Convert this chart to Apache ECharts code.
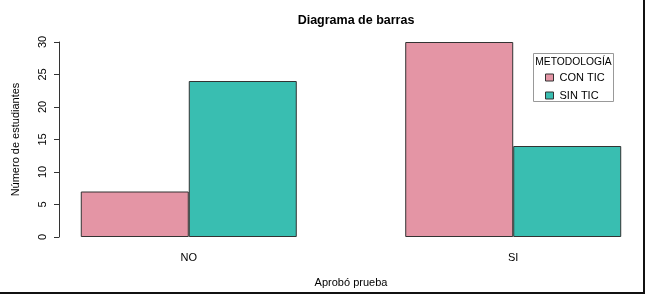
<!DOCTYPE html>
<html>
<head>
<meta charset="utf-8">
<script src="https://cdn.jsdelivr.net/npm/echarts@6/dist/echarts.min.js"></script>
<style>html,body{margin:0;padding:0;background:#fff;}#c{width:646px;height:295px;}</style>
</head>
<body>
<div id="c"></div>
<script>
var categories = ['NO', 'SI'];
var seriesNames = ['CON TIC', 'SIN TIC'];
var conTic = [7, 30];
var sinTic = [24, 14];
var yTicks = [0, 5, 10, 15, 20, 25, 30];

// R barplot(beside=TRUE) group centres: 2, 5 (units of bar width)
var groupPos = categories.map(function (c, i) { return 2 + 3 * i; });
function pairs(vals) { return vals.map(function (v, i) { return [groupPos[i], v]; }); }

var FONT = 'Liberation Sans, Arial, sans-serif';
var chart = echarts.init(document.getElementById('c'), null, {renderer: 'canvas'});
chart.setOption({
  animation: false,
  backgroundColor: '#ffffff',
  textStyle: {fontFamily: FONT},
  title: {
    text: 'Diagrama de barras',
    left: 351, top: 9, textAlign: 'center',
    textStyle: {fontFamily: FONT, fontSize: 12.5, fontWeight: 'bold', color: '#000'}
  },
  legend: {
    data: seriesNames,
    orient: 'vertical',
    left: 545, top: 72, padding: 0,
    itemWidth: 8, itemHeight: 7, itemGap: 7,
    icon: 'rect',
    textStyle: {fontFamily: FONT, fontSize: 11, color: '#000', padding: [0, 0, 0, 1]},
    itemStyle: {borderColor: '#333', borderWidth: 1}
  },
  grid: {left: 59, top: 42, right: 3, bottom: 58, containLabel: false},
  xAxis: {
    type: 'value',
    min: 0.8, max: 6.2,
    splitLine: {show: false},
    axisLine: {show: false},
    axisTick: {show: false},
    axisLabel: {
      fontFamily: FONT, fontSize: 11, color: '#000', margin: 15,
      customValues: groupPos,
      formatter: function (v) { var i = groupPos.indexOf(v); return i >= 0 ? categories[i] : ''; }
    }
  },
  yAxis: {
    type: 'value',
    min: yTicks[0], max: yTicks[yTicks.length - 1], interval: 5,
    splitLine: {show: false},
    axisLine: {show: true, lineStyle: {color: '#333', width: 1}},
    axisTick: {show: true, length: 5, lineStyle: {color: '#333'}},
    axisLabel: {fontFamily: FONT, fontSize: 11, color: '#000', rotate: 90, margin: 11},
    name: 'Número de estudiantes',
    nameLocation: 'middle',
    nameRotate: 90,
    nameGap: 38,
    nameTextStyle: {fontFamily: FONT, fontSize: 11, color: '#000'}
  },
  series: [
    {name: seriesNames[0], type: 'bar', data: pairs(conTic), barWidth: 108, barGap: '0%',
     itemStyle: {color: '#E495A5', borderColor: '#333', borderWidth: 1}},
    {name: seriesNames[1], type: 'bar', data: pairs(sinTic), barWidth: 108, barGap: '0%',
     itemStyle: {color: '#39BEB1', borderColor: '#333', borderWidth: 1}}
  ],
  graphic: [
    {type: 'rect', shape: {x: 533.5, y: 53.5, width: 80, height: 48},
     style: {fill: 'none', stroke: '#999', lineWidth: 1}, z: 0},
    {type: 'text', x: 573.5, y: 57, style: {text: 'METODOLOGÍA', fontFamily: FONT, fontSize: 10.3, fill: '#000', textAlign: 'center'}},
    {type: 'text', x: 351, y: 277, style: {text: 'Aprobó prueba', fontFamily: FONT, fontSize: 11, fill: '#000', textAlign: 'center'}},
    {type: 'line', shape: {x1: 644, y1: 0, x2: 644, y2: 294}, style: {stroke: '#111', lineWidth: 2}},
    {type: 'line', shape: {x1: 0, y1: 293, x2: 645, y2: 293}, style: {stroke: '#111', lineWidth: 2}}
  ]
});
</script>
</body>
</html>
